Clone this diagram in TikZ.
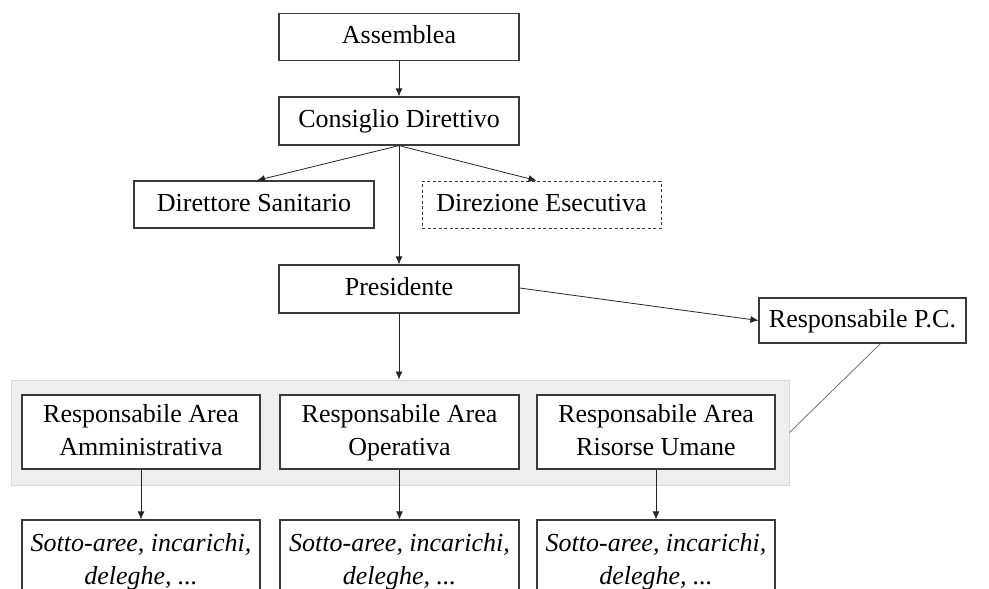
\documentclass[tikz,border=0pt]{standalone}
\usepackage{fontspec}
\setmainfont{Liberation Serif}
\usetikzlibrary{arrows.meta,calc}
\definecolor{boxline}{HTML}{3A3A3A}
\definecolor{grpfill}{HTML}{EEEEEE}
\definecolor{grpline}{HTML}{D8D8D8}
\begin{document}
\begin{tikzpicture}[x=1pt,y=-1pt,
  box/.style={draw=boxline,line width=1.2pt,fill=white,rectangle,inner sep=0pt,
    align=center,font=\fontsize{26}{33}\selectfont},
  ibox/.style={box,font=\fontsize{26}{33}\selectfont\itshape},
  conn/.style={draw=black!85,line width=0.8pt,-{Latex[length=8pt,width=7pt]}},
  plain/.style={draw=black!60,line width=0.7pt}]
\useasboundingbox (0,0) rectangle (989,589);
\clip (0,0) rectangle (989,589);
\fill[white] (0,0) rectangle (989,589);
% group background
\node[rectangle,fill=grpfill,draw=grpline,line width=1pt,minimum width=778pt,minimum height=105pt,inner sep=0pt] (grp) at (400,432.5) {};
% boxes
\node[box,minimum width=240pt,minimum height=47pt] (ass) at (399,37) {\strut Assemblea};
\node[box,minimum width=240pt,minimum height=48pt] (cons) at (399,121) {\strut Consiglio Direttivo};
\node[box,minimum width=240pt,minimum height=47pt] (dirs) at (254,204.5) {\strut Direttore Sanitario};
\node[box,dashed,dash pattern=on 3pt off 2.5pt,line width=0.9pt,minimum width=239pt,minimum height=47pt] (dire) at (541.5,204.5) {\strut Direzione Esecutiva};
\node[box,minimum width=240pt,minimum height=48pt] (pres) at (399,289) {\strut Presidente};
\node[box,minimum width=207pt,minimum height=45pt] (pc) at (862.5,320.5) {\strut Responsabile P.C.};
\node[box,minimum width=238pt,minimum height=74pt] (a1) at (141,432) {\strut Responsabile Area\\\strut Amministrativa};
\node[box,minimum width=239pt,minimum height=74pt] (a2) at (399.5,432) {\strut Responsabile Area\\\strut Operativa};
\node[box,minimum width=238pt,minimum height=74pt] (a3) at (656,432) {\strut Responsabile Area\\\strut Risorse Umane};
\node[ibox,minimum width=238pt,minimum height=82pt] (s1) at (141,561) {\strut Sotto-aree, incarichi,\\\strut deleghe, ...};
\node[ibox,minimum width=239pt,minimum height=82pt] (s2) at (399.5,561) {\strut Sotto-aree, incarichi,\\\strut deleghe, ...};
\node[ibox,minimum width=238pt,minimum height=82pt] (s3) at (656,561) {\strut Sotto-aree, incarichi,\\\strut deleghe, ...};
% connectors
\draw[conn] (ass.south) -- (cons.north);
\draw[conn] (cons.south) -- ($(dirs.north)+(3,0)$);
\draw[conn] (cons.south) -- ($(dire.north)+(-5,0)$);
\draw[conn] (cons.south) -- (pres.north);
\draw[conn] ($(pres.east)+(0,-1)$) -- (pc.west);
\draw[conn] (pres.south) -- (grp.north -| pres.south);
\draw[plain] ($(pc.south)+(18,0)$) -- (grp.east);
\draw[conn] (a1.south) -- (s1.north);
\draw[conn] (a2.south) -- (s2.north);
\draw[conn] (a3.south) -- (s3.north);
\end{tikzpicture}
\end{document}
